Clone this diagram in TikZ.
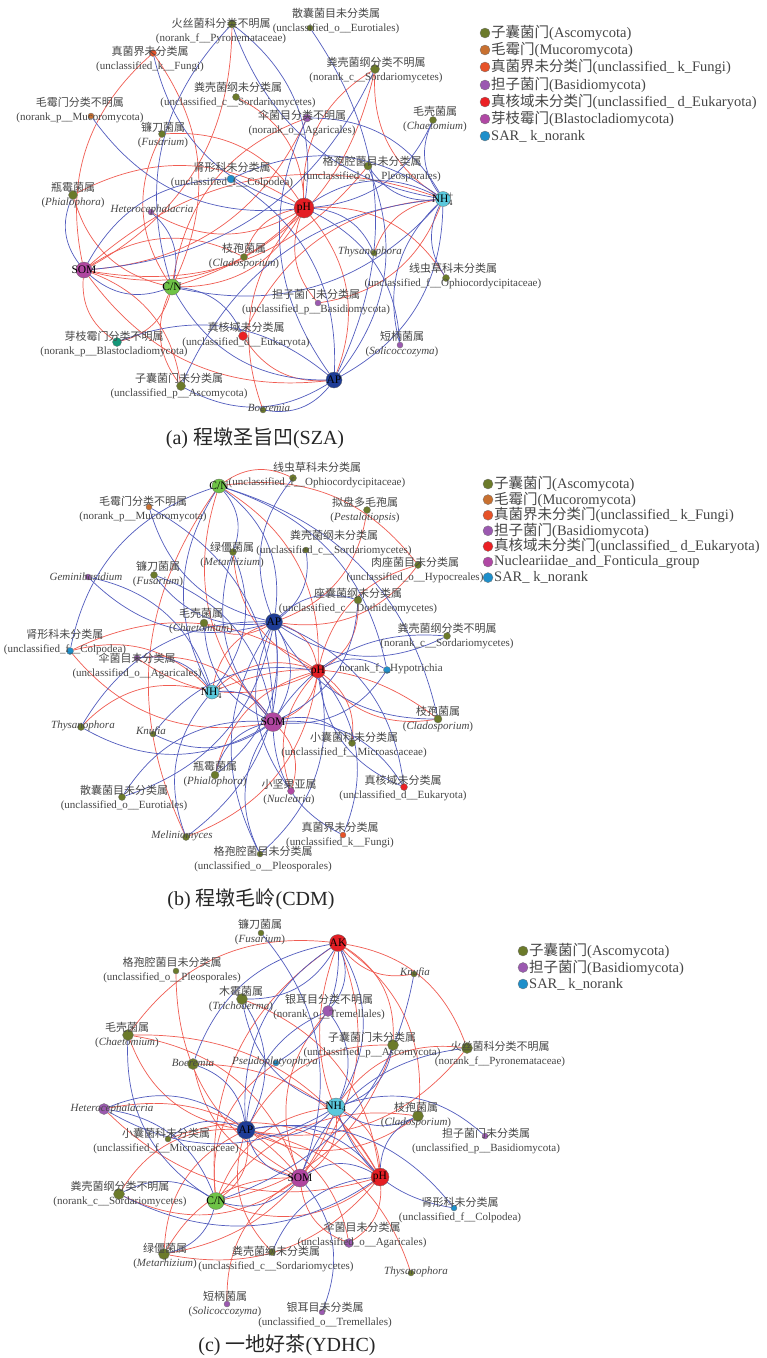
\documentclass[tikz,border=0pt]{standalone}
\usepackage{fontspec}
\setmainfont{Liberation Serif}
\newfontfamily\cjk{Noto Sans CJK SC}
\definecolor{ered}{RGB}{240,92,82}
\definecolor{eblue}{RGB}{82,92,190}
\definecolor{kAsco}{RGB}{107,122,42}
\definecolor{kMuco}{RGB}{200,112,48}
\definecolor{kFungi}{RGB}{230,82,40}
\definecolor{kBasi}{RGB}{155,89,176}
\definecolor{kEuk}{RGB}{235,32,36}
\definecolor{kBlas}{RGB}{176,72,164}
\definecolor{kSAR}{RGB}{30,143,202}
\definecolor{kTeal}{RGB}{20,150,120}
\definecolor{kPH}{RGB}{228,30,36}
\definecolor{kNH}{RGB}{90,200,220}
\definecolor{kSOM}{RGB}{176,70,160}
\definecolor{kCN}{RGB}{110,195,70}
\definecolor{kAP}{RGB}{30,60,150}
\definecolor{labc}{RGB}{70,70,70}
\pgfdeclarelayer{bg}
\pgfsetlayers{bg,main}
\tikzset{
  gdot/.style={circle,draw=black!55,line width=0.3pt,inner sep=0pt,minimum size=#1},
  gdot/.default=7pt,
  facn/.style={circle,draw=black!60,line width=0.3pt,inner sep=0pt,font=\fontsize{11.5}{12}\selectfont,text=black},
  lab/.style={align=center,text=labc,font=\fontsize{11}{14}\selectfont,inner sep=0pt},
  legt/.style={text=labc,font=\fontsize{14.5}{16}\selectfont,inner sep=0pt},
  capt/.style={text=black!85,font=\fontsize{20}{22}\selectfont,inner sep=0pt},
  pe/.style={draw=ered,line width=0.7pt},
  ne/.style={draw=eblue,line width=0.7pt},
}
\newcommand\gen[5]{\node[gdot=#5,fill=#4] (#1) at (#2,#3) {};}
\newcommand\lab[5]{\node[lab] (#1) at (#2,#3) {{\cjk #4}\\#5};}
\newcommand\ilab[4]{\node[lab] (#1) at (#2,#3) {\textit{#4}};}
\newcommand\fac[6]{\node[facn,minimum size=#5,fill=#4] (#1) at (#2,#3) {\makebox[0pt][c]{#6}};}
\newcommand\leg[5]{\node[gdot=10pt,fill=#4] (#1) at (#2,#3) {};\node[legt,anchor=west] (#1t) at (#2+6,#3) {#5};}
\begin{document}
\begin{tikzpicture}[x=1pt,y=-1pt]
\useasboundingbox (0,0) rectangle (767,1358);
% ================= panel (a) =================
\fac{aPH}{304}{208}{kPH}{20pt}{pH}
\fac{aNH}{443}{199}{kNH}{15pt}{NH$_{4}^{\!+}$}
\fac{aSOM}{84}{270}{kSOM}{16pt}{SOM}
\fac{aCN}{172}{287}{kCN}{16pt}{C/N}
\fac{aAP}{334}{380}{kAP}{16pt}{AP}
\gen{aPyro}{232}{24}{kAsco}{8pt}
\gen{aEuro}{310}{28}{kAsco}{6pt}
\gen{aFungi}{153}{53}{kFungi}{7pt}
\gen{aNSord}{375}{69}{kAsco}{9pt}
\gen{aUSord}{236}{97}{kAsco}{7pt}
\gen{aMuc}{91}{116}{kMuco}{6pt}
\gen{aAgar}{307}{118}{kBasi}{8pt}
\gen{aChae}{433}{120}{kAsco}{7pt}
\gen{aFus}{162}{134}{kAsco}{7pt}
\gen{aColp}{231}{179}{kSAR}{8pt}
\gen{aPleo}{368}{166}{kAsco}{8pt}
\gen{aPhia}{73}{195}{kAsco}{9pt}
\gen{aHet}{151}{212}{kBasi}{6pt}
\gen{aClad}{244}{257}{kAsco}{7pt}
\gen{aThys}{374}{253}{kAsco}{6pt}
\gen{aOph}{446}{278}{kAsco}{7pt}
\gen{aBas}{318}{303}{kBasi}{6pt}
\gen{aEuk}{243}{336}{kEuk}{9pt}
\gen{aBla}{117}{342}{kTeal}{9pt}
\gen{aSol}{400}{345}{kBasi}{6pt}
\gen{aAsc}{181}{386}{kAsco}{9pt}
\gen{aBoe}{263}{410}{kAsco}{6pt}
\lab{aPyroL}{221}{31}{火丝菌科分类不明属}{(norank\_f\_\_Pyronemataceae)}
\lab{aEuroL}{336}{21}{散囊菌目未分类属}{(unclassified\_o\_\_Eurotiales)}
\lab{aFungiL}{150}{59}{真菌界未分类属}{(unclassified\_k\_\_Fungi)}
\lab{aNSordL}{376}{70}{粪壳菌纲分类不明属}{(norank\_c\_\_Sordariomycetes)}
\lab{aUSordL}{238}{95}{粪壳菌纲未分类属}{(unclassified\_c\_\_Sordariomycetes)}
\lab{aMucL}{80}{110}{毛霉门分类不明属}{(norank\_p\_\_Mucoromycota)}
\lab{aAgarL}{302}{123}{伞菌目分类不明属}{(norank\_o\_\_Agaricales)}
\lab{aChaeL}{435}{119}{毛壳菌属}{(\textit{Chaetomium})}
\lab{aFusL}{163}{135}{镰刀菌属}{(\textit{Fusarium})}
\lab{aColpL}{232}{175}{肾形科未分类属}{(unclassified\_f\_\_Colpodea)}
\lab{aPleoL}{372}{169}{格孢腔菌目未分类属}{(unclassified\_o\_\_Pleosporales)}
\lab{aPhiaL}{73}{195}{瓶霉菌属}{(\textit{Phialophora})}
\ilab{aHetL}{152}{210}{Heterocephalacria}
\lab{aCladL}{244}{256}{枝孢菌属}{(\textit{Cladosporium})}
\ilab{aThysL}{370}{252}{Thysanophora}
\lab{aOphL}{453}{276}{线虫草科未分类属}{(unclassified\_f\_\_Ophiocordycipitaceae)}
\lab{aBasL}{316}{302}{担子菌门未分类属}{(unclassified\_p\_\_Basidiomycota)}
\lab{aEukL}{246}{335}{真核域未分类属}{(unclassified\_d\_\_Eukaryota)}
\lab{aBlaL}{114}{344}{芽枝霉门分类不明属}{(norank\_p\_\_Blastocladiomycota)}
\lab{aSolL}{402}{344}{短柄菌属}{(\textit{Solicoccozyma})}
\lab{aAscL}{179}{386}{子囊菌门未分类属}{(unclassified\_p\_\_Ascomycota)}
\ilab{aBoeL}{269}{408}{Boeremia}
\node[capt] (capA) at (255,438) {(a) {\cjk 程墩圣旨凹}(SZA)};
\leg{lA1}{485}{33}{kAsco}{{\cjk 子囊菌门}(Ascomycota)}
\leg{lA2}{485}{50}{kMuco}{{\cjk 毛霉门}(Mucoromycota)}
\leg{lA3}{485}{67}{kFungi}{{\cjk 真菌界未分类门}(unclassified\_ k\_Fungi)}
\leg{lA4}{485}{85}{kBasi}{{\cjk 担子菌门}(Basidiomycota)}
\leg{lA5}{485}{102}{kEuk}{{\cjk 真核域未分类门}(unclassified\_ d\_Eukaryota)}
\leg{lA6}{485}{119}{kBlas}{{\cjk 芽枝霉门}(Blastocladiomycota)}
\leg{lA7}{485}{136}{kSAR}{SAR\_ k\_norank}
% ================= panel (b) =================
\fac{bCN}{219}{486}{kCN}{14pt}{C/N}
\fac{bAP}{274}{622}{kAP}{17pt}{AP}
\fac{bPH}{318}{671}{kPH}{14pt}{pH}
\fac{bNH}{212}{692}{kNH}{14pt}{NH$_{4}^{\!+}$}
\fac{bSOM}{273}{722}{kSOM}{19pt}{SOM}
\gen{bOph}{293}{478}{kAsco}{7pt}
\gen{bMuc}{149}{507}{kMuco}{6pt}
\gen{bPes}{367}{510}{kAsco}{7pt}
\gen{bUSord}{306}{550}{kAsco}{6pt}
\gen{bMet}{233}{552}{kAsco}{7pt}
\gen{bHyp}{418}{565}{kAsco}{7pt}
\gen{bGem}{88}{577}{kBasi}{6pt}
\gen{bFus}{154}{575}{kAsco}{7pt}
\gen{bDot}{358}{600}{kAsco}{8pt}
\gen{bChae}{204}{623}{kAsco}{8pt}
\gen{bNSord}{447}{636}{kAsco}{7pt}
\gen{bColp}{70}{651}{kSAR}{7pt}
\gen{bAgar}{137}{658}{kBasi}{6pt}
\gen{bHyt}{387}{670}{kSAR}{7pt}
\gen{bClad}{438}{719}{kAsco}{8pt}
\gen{bThys}{81}{727}{kAsco}{7pt}
\gen{bKnu}{153}{734}{kAsco}{6pt}
\gen{bMic}{352}{743}{kAsco}{7pt}
\gen{bPhia}{215}{775}{kAsco}{8pt}
\gen{bEuro}{122}{797}{kAsco}{7pt}
\gen{bNuc}{291}{791}{kBlas}{7pt}
\gen{bEuk}{404}{787}{kEuk}{7pt}
\gen{bMel}{186}{837}{kAsco}{7pt}
\gen{bFungi}{343}{835}{kFungi}{6pt}
\gen{bPleo}{260}{854}{kAsco}{6pt}
\lab{bOphL}{317}{475}{线虫草科未分类属}{(unclassified\_f\_\_Ophiocordycipitaceae)}
\lab{bMucL}{143}{509}{毛霉门分类不明属}{(norank\_p\_\_Mucoromycota)}
\lab{bPesL}{365}{510}{拟盘多毛孢属}{(\textit{Pestalotiopsis})}
\lab{bUSordL}{334}{543}{粪壳菌纲未分类属}{(unclassified\_c\_\_Sordariomycetes)}
\lab{bMetL}{232}{555}{绿僵菌属}{(\textit{Metarhizium})}
\lab{bHypL}{415}{570}{肉座菌目未分类属}{(unclassified\_o\_\_Hypocreales)}
\ilab{bGemL}{86}{577}{Geminibasidium}
\lab{bFusL}{158}{574}{镰刀菌属}{(\textit{Fusarium})}
\lab{bDotL}{358}{601}{座囊菌纲未分类属}{(unclassified\_c\_\_Dothideomycetes)}
\lab{bChaeL}{201}{621}{毛壳菌属}{(\textit{Chaetomium})}
\lab{bNSordL}{447}{636}{粪壳菌纲分类不明属}{(norank\_c\_\_Sordariomycetes)}
\lab{bColpL}{65}{642}{肾形科未分类属}{(unclassified\_f\_\_Colpodea)}
\lab{bAgarL}{137}{666}{伞菌目未分类属}{(unclassified\_o\_\_Agaricales)}
\node[lab] (bHytL) at (391,669) {norank\_f\_\_Hypotrichia};
\lab{bCladL}{438}{719}{枝孢菌属}{(\textit{Cladosporium})}
\ilab{bThysL}{83}{726}{Thysanophora}
\ilab{bKnuL}{151}{732}{Knufia}
\lab{bMicL}{354}{745}{小囊菌科未分类属}{(unclassified\_f\_\_Microascaceae)}
\lab{bPhiaL}{215}{774}{瓶霉菌属}{(\textit{Phialophora})}
\lab{bEuroL}{124}{798}{散囊菌目未分类属}{(unclassified\_o\_\_Eurotiales)}
\lab{bNucL}{289}{792}{小坚果亚属}{(\textit{Nuclearia})}
\lab{bEukL}{403}{788}{真核域未分类属}{(unclassified\_d\_\_Eukaryota)}
\ilab{bMelL}{182}{836}{Meliniomyces}
\lab{bFungiL}{340}{835}{真菌界未分类属}{(unclassified\_k\_\_Fungi)}
\lab{bPleoL}{263}{859}{格孢腔菌目未分类属}{(unclassified\_o\_\_Pleosporales)}
\node[capt] (capB) at (251,899) {(b) {\cjk 程墩毛岭}(CDM)};
\leg{lB1}{488}{484}{kAsco}{{\cjk 子囊菌门}(Ascomycota)}
\leg{lB2}{488}{499.6}{kMuco}{{\cjk 毛霉门}(Mucoromycota)}
\leg{lB3}{488}{515.2}{kFungi}{{\cjk 真菌界未分类门}(unclassified\_ k\_Fungi)}
\leg{lB4}{488}{530.8}{kBasi}{{\cjk 担子菌门}(Basidiomycota)}
\leg{lB5}{488}{546.4}{kEuk}{{\cjk 真核域未分类门}(unclassified\_ d\_Eukaryota)}
\leg{lB6}{488}{562}{kBlas}{Nucleariidae\_and\_Fonticula\_group}
\leg{lB7}{488}{577.6}{kSAR}{SAR\_ k\_norank}
% ================= panel (c) =================
\fac{cAK}{338}{943}{kPH}{17pt}{AK}
\fac{cNH}{336}{1107}{kNH}{18pt}{NH$_{4}$}
\fac{cAP}{246}{1130}{kAP}{18pt}{AP}
\fac{cSOM}{300}{1178}{kSOM}{18pt}{SOM}
\fac{cPH}{380}{1177}{kPH}{18pt}{pH}
\fac{cCN}{216}{1201}{kCN}{17pt}{C/N}
\gen{cFus}{261}{933}{kAsco}{6pt}
\gen{cPleo}{176}{971}{kAsco}{6pt}
\gen{cKnu}{414}{974}{kAsco}{6pt}
\gen{cTri}{242}{999}{kAsco}{11pt}
\gen{cTremN}{328}{1011}{kBasi}{11pt}
\gen{cChae}{128}{1035}{kAsco}{11pt}
\gen{cAsc}{393}{1045}{kAsco}{11pt}
\gen{cPyro}{467}{1048}{kAsco}{11pt}
\gen{cBoe}{193}{1064}{kAsco}{11pt}
\gen{cPse}{276}{1063}{kSAR}{6pt}
\gen{cClad}{418}{1116}{kAsco}{11pt}
\gen{cHet}{104}{1109}{kBasi}{11pt}
\gen{cBas}{485}{1136}{kBasi}{6pt}
\gen{cMic}{168}{1139}{kAsco}{6pt}
\gen{cNSord}{119}{1194}{kAsco}{11pt}
\gen{cColp}{454}{1208}{kSAR}{6pt}
\gen{cAgar}{349}{1243}{kBasi}{9pt}
\gen{cMet}{164}{1254}{kAsco}{11pt}
\gen{cUSord}{272}{1252}{kAsco}{7pt}
\gen{cThys}{411}{1273}{kAsco}{6pt}
\gen{cSol}{227}{1304}{kBasi}{6pt}
\gen{cTremU}{322}{1312}{kBasi}{6pt}
\lab{cFusL}{260}{932}{镰刀菌属}{(\textit{Fusarium})}
\lab{cPleoL}{172}{970}{格孢腔菌目未分类属}{(unclassified\_o\_\_Pleosporales)}
\ilab{cKnuL}{415}{973}{Knufia}
\lab{cTriL}{241}{999}{木霉菌属}{(\textit{Trichoderma})}
\lab{cTremNL}{329}{1007}{银耳目分类不明属}{(norank\_o\_\_Tremellales)}
\lab{cChaeL}{127}{1035}{毛壳菌属}{(\textit{Chaetomium})}
\lab{cAscL}{372}{1045}{子囊菌门未分类属}{(unclassified\_p\_\_Ascomycota)}
\lab{cPyroL}{500}{1054}{火丝菌科分类不明属}{(norank\_f\_\_Pyronemataceae)}
\ilab{cBoeL}{193}{1063}{Boeremia}
\ilab{cPseL}{275}{1062}{Pseudoplatyophrya}
\lab{cCladL}{416}{1115}{枝孢菌属}{(\textit{Cladosporium})}
\ilab{cHetL}{112}{1109}{Heterocephalacria}
\lab{cBasL}{486}{1141}{担子菌门未分类属}{(unclassified\_p\_\_Basidiomycota)}
\lab{cMicL}{166}{1141}{小囊菌科未分类属}{(unclassified\_f\_\_Microascaceae)}
\lab{cNSordL}{120}{1194}{粪壳菌纲分类不明属}{(norank\_c\_\_Sordariomycetes)}
\lab{cColpL}{460}{1210}{肾形科未分类属}{(unclassified\_f\_\_Colpodea)}
\lab{cAgarL}{362}{1235}{伞菌目未分类属}{(unclassified\_o\_\_Agaricales)}
\lab{cMetL}{165}{1256}{绿僵菌属}{(\textit{Metarhizium})}
\lab{cUSordL}{276}{1259}{粪壳菌纲未分类属}{(unclassified\_c\_\_Sordariomycetes)}
\ilab{cThysL}{416}{1272}{Thysanophora}
\lab{cSolL}{225}{1304}{短柄菌属}{(\textit{Solicoccozyma})}
\lab{cTremUL}{325}{1315}{银耳目未分类属}{(unclassified\_o\_\_Tremellales)}
\node[capt] (capC) at (287,1345) {(c) {\cjk 一地好茶}(YDHC)};
\leg{lC1}{523}{951}{kAsco}{{\cjk 子囊菌门}(Ascomycota)}
\leg{lC2}{523}{967.5}{kBasi}{{\cjk 担子菌门}(Basidiomycota)}
\leg{lC3}{523}{984}{kSAR}{SAR\_ k\_norank}
% ================= edges =================
\begin{pgfonlayer}{bg}
\fill[white] (0,0) rectangle (767,1358);
\foreach \s/\t [count=\i] in {aSOM/aPyro,aSOM/aFungi,aCN/aFungi,aPH/aNSord,aCN/aNSord,aNH/aNSord,aPH/aUSord,aCN/aAgar,aPH/aFus,aCN/aFus,aSOM/aPleo,aCN/aPhia,aPH/aPhia,aPH/aHet,aPH/aClad,aSOM/aClad,aNH/aThys,aPH/aOph,aPH/aBas,aNH/aBas,aNH/aEuk,aAP/aEuk,aSOM/aBla,aCN/aBla,aCN/aAsc,aSOM/aAsc,aPH/aBoe,aPH/aCN,aSOM/aPH,aSOM/aNH,aSOM/aAP,aPH/aAP,aSOM/aAgar,
bCN/bOph,bCN/bSOM,bCN/bPH,bAP/bPes,bPH/bMet,bAP/bHyp,bPH/bHyp,bPH/bDot,bAP/bChae,bPH/bColp,bSOM/bColp,bNH/bColp,bPH/bAgar,bPH/bClad,bNH/bClad,bNH/bThys,bPH/bMic,bPH/bPhia,bSOM/bNuc,bPH/bNuc,bPH/bMel,bCN/bMel,bAP/bPH,bAP/bNH,bPH/bSOM,bPH/bNH,bCN/bHyp,bSOM/bAgar,
cAK/cPyro,cAK/cChae,cAK/cClad,cAK/cPH,cAK/cSOM,cAK/cCN,cSOM/cPleo,cPH/cTri,cSOM/cTremN,cSOM/cChae,cAP/cChae,cPH/cChae,cAP/cAsc,cCN/cAsc,cNH/cPyro,cAP/cPyro,cSOM/cBoe,cPH/cBoe,cCN/cPse,cAP/cClad,cCN/cClad,cSOM/cHet,cPH/cHet,cPH/cMic,cSOM/cNSord,cAP/cNSord,cPH/cAgar,cSOM/cAgar,cAP/cAgar,cAP/cMet,cPH/cMet,cSOM/cMet,cNH/cMet,cAP/cUSord,cAP/cThys,cSOM/cSol,cAP/cCN,cSOM/cNH,cNH/cPH,cCN/cPH,cCN/cNH,cAK/cKnu,cAK/cAsc}
{\pgfmathsetmacro\bb{mod(\i,2)==0 ? 30 : -30}
 \draw[pe,bend left=\bb] (\s) to (\t);}
\foreach \s/\t [count=\i] in {aCN/aPyro,aPH/aPyro,aNH/aPyro,aAP/aEuro,aPH/aFungi,aSOM/aNSord,aPH/aMuc,aNH/aAgar,aAP/aAgar,aPH/aChae,aNH/aChae,aNH/aColp,aSOM/aColp,aAP/aColp,aNH/aPleo,aAP/aPleo,aSOM/aPhia,aCN/aHet,aPH/aThys,aNH/aOph,aCN/aEuk,aAP/aBla,aPH/aSol,aNH/aSol,aAP/aAsc,aNH/aAsc,aAP/aBoe,aCN/aAP,aNH/aAP,aSOM/aCN,aPH/aNH,aCN/aNH,
bAP/bOph,bCN/bNH,bCN/bAP,bCN/bColp,bCN/bClad,bSOM/bMuc,bAP/bMuc,bAP/bUSord,bSOM/bMet,bNH/bMet,bAP/bGem,bNH/bGem,bAP/bFus,bSOM/bFus,bAP/bDot,bSOM/bDot,bSOM/bChae,bAP/bNSord,bSOM/bNSord,bNH/bAgar,bPH/bHyt,bSOM/bHyt,bCN/bHyt,bAP/bClad,bSOM/bThys,bAP/bThys,bSOM/bKnu,bPH/bKnu,bSOM/bMic,bSOM/bPhia,bAP/bPhia,bSOM/bEuro,bAP/bEuro,bAP/bNuc,bSOM/bEuk,bPH/bEuk,bAP/bEuk,bNH/bMel,bAP/bMel,bSOM/bFungi,bPH/bFungi,bSOM/bPleo,bPH/bPleo,bAP/bPleo,bAP/bSOM,bSOM/bNH,bCN/bMet,
cSOM/cFus,cAK/cTri,cAK/cBoe,cAK/cTremN,cAK/cAP,cAK/cNH,cCN/cKnu,cNH/cTri,cAP/cTri,cAP/cTremN,cNH/cTremN,cCN/cChae,cNH/cAsc,cSOM/cPyro,cAP/cBoe,cAK/cPse,cNH/cClad,cPH/cClad,cAP/cHet,cNH/cHet,cCN/cHet,cNH/cBas,cAP/cMic,cPH/cNSord,cCN/cNSord,cAP/cColp,cNH/cColp,cCN/cMet,cPH/cUSord,cSOM/cTremU,cAP/cSOM,cAP/cPH,cAP/cNH,cSOM/cPH,cCN/cSOM}
{\pgfmathsetmacro\bb{mod(\i,2)==0 ? -30 : 30}
 \draw[ne,bend left=\bb] (\s) to (\t);}
\end{pgfonlayer}
\end{tikzpicture}
\end{document}
